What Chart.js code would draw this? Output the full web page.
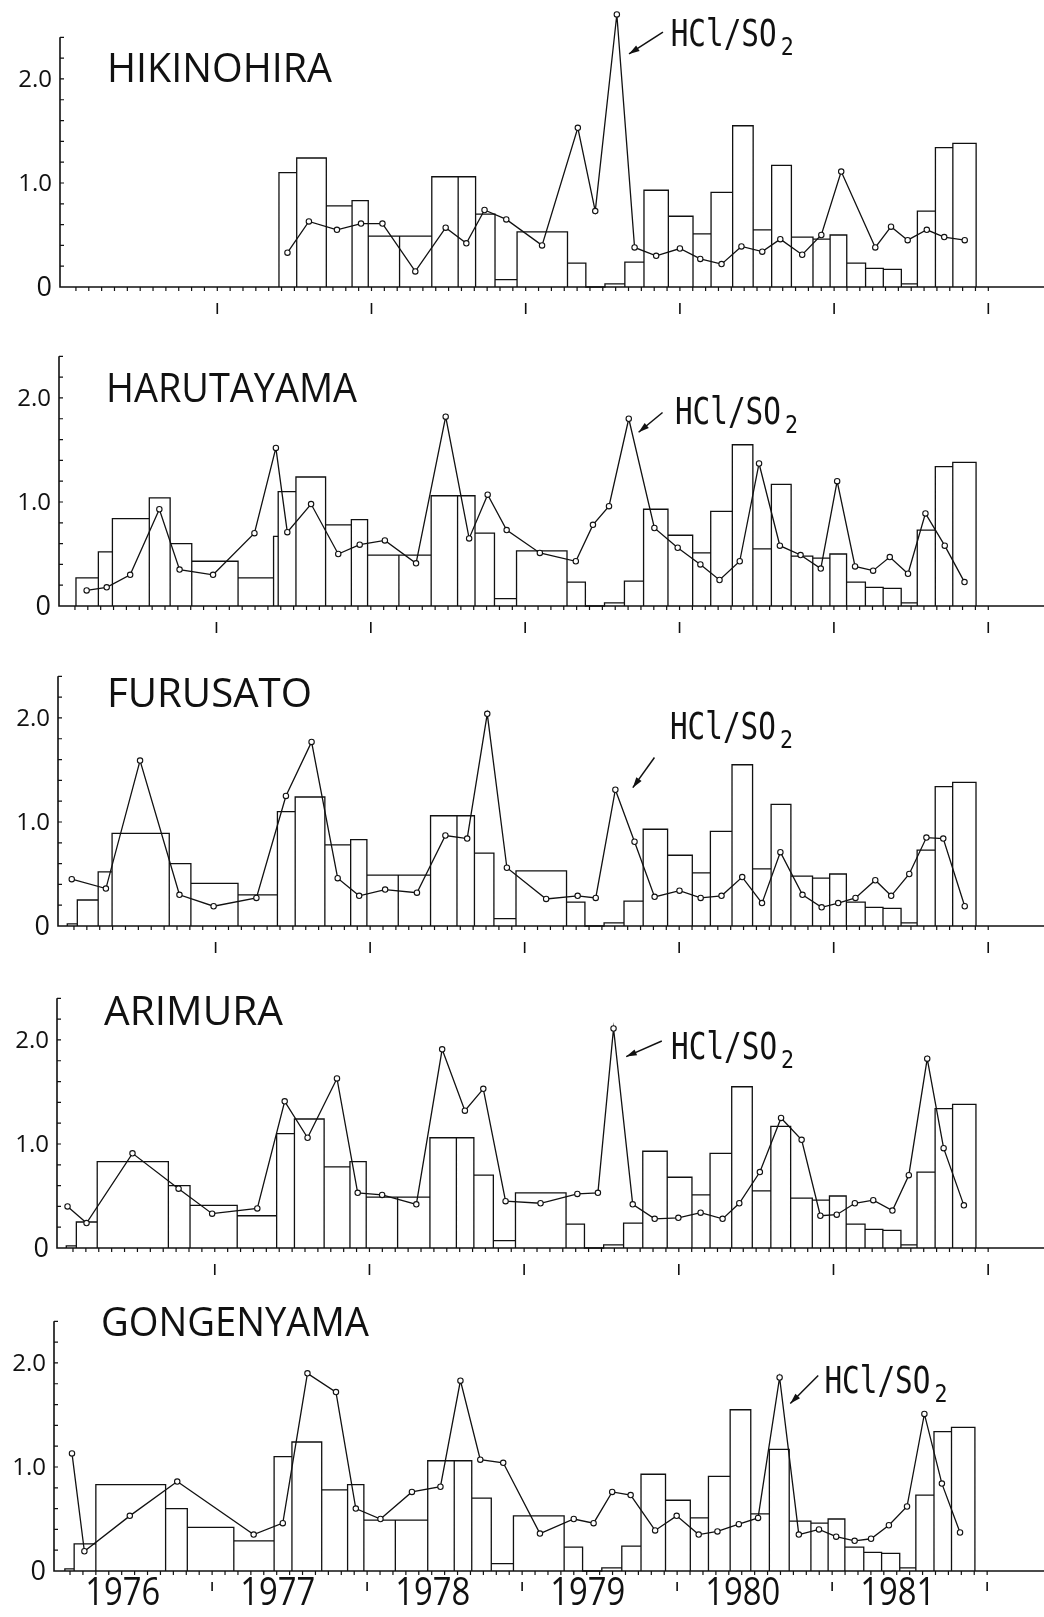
<!DOCTYPE html>
<html>
<head>
<meta charset="utf-8">
<script src="https://cdn.jsdelivr.net/npm/chart.js@4.4.0/dist/chart.umd.min.js"></script>
<style>
  html, body { margin: 0; padding: 0; background: #fff; }
  #wrap { position: relative; width: 1044px; height: 1617px; overflow: hidden; background: #fff; }
  #wrap canvas { position: absolute; left: 0; }
</style>
</head>
<body>
<div id="wrap"></div>
<script>
// ---------- data (x in decimal years) ----------
const stations = ['HIKINOHIRA', 'HARUTAYAMA', 'FURUSATO', 'ARIMURA', 'GONGENYAMA'];
const yearLabels = ['1976', '1977', '1978', '1979', '1980', '1981'];
const yearMarks = [1977, 1978, 1979, 1980, 1981, 1982];
const yTickValues = [0, 1, 2];
const yTickLabels = ['0', '1.0', '2.0'];

// bars from mid-1977 on are the same for every station
const lateEdges = [1977.40, 1977.515, 1977.707, 1977.874, 1977.979, 1978.182, 1978.391, 1978.562, 1978.675, 1978.801,
  1978.944, 1979.271, 1979.39, 1979.514, 1979.643, 1979.767, 1979.925, 1980.085, 1980.202, 1980.342,
  1980.475, 1980.595, 1980.723, 1980.863, 1980.974, 1981.082, 1981.204, 1981.319, 1981.436, 1981.54,
  1981.657, 1981.77, 1981.921];
const lateHeights = [1.10, 1.24, 0.78, 0.83, 0.49, 0.49, 1.06, 1.06, 0.70, 0.07,
  0.53, 0.23, 0, 0.03, 0.24, 0.93, 0.68, 0.51, 0.91, 1.55,
  0.55, 1.17, 0.48, 0.46, 0.50, 0.23, 0.18, 0.17, 0.03, 0.73,
  1.34, 1.38];

// 1976-77 bars differ per station (last one runs up to lateEdges[0])
const hikinohiraEarlyEdges = [];
const hikinohiraEarlyHeights = [];
const harutayamaEarlyEdges = [1976.09, 1976.235, 1976.326, 1976.565, 1976.70, 1976.84, 1977.14, 1977.37];
const harutayamaEarlyHeights = [0.27, 0.52, 0.84, 1.04, 0.60, 0.43, 0.27, 0.67];
const furusatoEarlyEdges = [1976.04, 1976.105, 1976.24, 1976.33, 1976.70, 1976.84, 1977.145];
const furusatoEarlyHeights = [0.02, 0.25, 0.52, 0.89, 0.60, 0.41, 0.30];
const arimuraEarlyEdges = [1976.04, 1976.105, 1976.24, 1976.70, 1976.84, 1977.145];
const arimuraEarlyHeights = [0.02, 0.25, 0.83, 0.60, 0.41, 0.31];
const gongenyamaEarlyEdges = [1976.05, 1976.11, 1976.25, 1976.70, 1976.84, 1977.14];
const gongenyamaEarlyHeights = [0.02, 0.26, 0.83, 0.60, 0.42, 0.29];

// HCl/SO2 ratio
const hikinohiraX = [1977.455, 1977.594, 1977.776, 1977.932, 1978.071, 1978.284, 1978.481, 1978.615, 1978.733, 1978.874,
  1979.106, 1979.338, 1979.451, 1979.591, 1979.706, 1979.846, 1980.0, 1980.132, 1980.27, 1980.399,
  1980.534, 1980.651, 1980.793, 1980.917, 1981.046, 1981.267, 1981.369, 1981.477, 1981.601, 1981.714, 1981.847];
const hikinohiraY = [0.33, 0.63, 0.55, 0.61, 0.61, 0.15, 0.57, 0.42, 0.74, 0.65,
  0.40, 1.53, 0.73, 2.62, 0.38, 0.30, 0.37, 0.27, 0.22, 0.39,
  0.34, 0.46, 0.31, 0.50, 1.11, 0.38, 0.58, 0.45, 0.55, 0.48, 0.45];

const harutayamaX = [1976.159, 1976.289, 1976.441, 1976.63, 1976.761, 1976.978, 1977.246, 1977.385, 1977.459, 1977.613,
  1977.789, 1977.928, 1978.091, 1978.293, 1978.485, 1978.637, 1978.757, 1978.88, 1979.095, 1979.328,
  1979.439, 1979.543, 1979.671, 1979.837, 1979.988, 1980.135, 1980.259, 1980.39, 1980.515, 1980.65,
  1980.784, 1980.915, 1981.021, 1981.137, 1981.254, 1981.362, 1981.48, 1981.593, 1981.718, 1981.846];
const harutayamaY = [0.15, 0.18, 0.30, 0.93, 0.35, 0.30, 0.70, 1.52, 0.71, 0.98,
  0.50, 0.59, 0.63, 0.41, 1.82, 0.65, 1.07, 0.73, 0.51, 0.43,
  0.78, 0.96, 1.80, 0.75, 0.56, 0.40, 0.25, 0.43, 1.37, 0.58,
  0.49, 0.36, 1.20, 0.38, 0.34, 0.47, 0.31, 0.89, 0.58, 0.23];

const furusatoX = [1976.069, 1976.29, 1976.511, 1976.766, 1976.987, 1977.264, 1977.455, 1977.621, 1977.79, 1977.929,
  1978.097, 1978.303, 1978.487, 1978.628, 1978.758, 1978.885, 1979.139, 1979.343, 1979.46, 1979.587,
  1979.711, 1979.841, 1980.002, 1980.139, 1980.274, 1980.408, 1980.536, 1980.655, 1980.798, 1980.922,
  1981.029, 1981.141, 1981.269, 1981.372, 1981.489, 1981.6, 1981.709, 1981.848];
const furusatoY = [0.45, 0.36, 1.59, 0.30, 0.19, 0.27, 1.25, 1.77, 0.46, 0.29,
  0.35, 0.32, 0.87, 0.84, 2.04, 0.56, 0.26, 0.29, 0.27, 1.31,
  0.81, 0.28, 0.34, 0.27, 0.29, 0.47, 0.22, 0.71, 0.30, 0.18,
  0.22, 0.27, 0.44, 0.29, 0.50, 0.85, 0.84, 0.19];

const arimuraX = [1976.048, 1976.171, 1976.468, 1976.766, 1976.983, 1977.275, 1977.452, 1977.6, 1977.79, 1977.924,
  1978.082, 1978.303, 1978.47, 1978.617, 1978.736, 1978.88, 1979.106, 1979.344, 1979.477, 1979.578,
  1979.702, 1979.844, 1979.997, 1980.141, 1980.283, 1980.391, 1980.524, 1980.661, 1980.794, 1980.915,
  1981.021, 1981.138, 1981.257, 1981.381, 1981.487, 1981.606, 1981.712, 1981.843];
const arimuraY = [0.40, 0.24, 0.91, 0.57, 0.33, 0.38, 1.41, 1.06, 1.63, 0.53,
  0.51, 0.42, 1.91, 1.32, 1.53, 0.45, 0.43, 0.52, 0.53, 2.11,
  0.42, 0.28, 0.29, 0.34, 0.28, 0.43, 0.73, 1.25, 1.04, 0.31,
  0.32, 0.43, 0.46, 0.36, 0.70, 1.82, 0.96, 0.41];

const gongenyamaX = [1976.096, 1976.176, 1976.469, 1976.775, 1977.268, 1977.456, 1977.615, 1977.799, 1977.927, 1978.086,
  1978.289, 1978.473, 1978.602, 1978.73, 1978.878, 1979.115, 1979.333, 1979.461, 1979.581, 1979.7,
  1979.858, 1979.997, 1980.139, 1980.26, 1980.398, 1980.522, 1980.661, 1980.785, 1980.915, 1981.026,
  1981.145, 1981.251, 1981.366, 1981.483, 1981.595, 1981.708, 1981.825];
const gongenyamaY = [1.13, 0.19, 0.53, 0.86, 0.35, 0.46, 1.90, 1.72, 0.60, 0.50,
  0.76, 0.81, 1.83, 1.07, 1.04, 0.36, 0.50, 0.46, 0.76, 0.73,
  0.39, 0.53, 0.35, 0.38, 0.45, 0.51, 1.86, 0.35, 0.40, 0.33,
  0.29, 0.31, 0.44, 0.62, 1.51, 0.84, 0.37];

// ---------- layout ----------
const X_MIN = 1975.98, X_MAX = 1982.328, Y_MAX = 2.71, AXIS_TOP = 2.4;
const panels = [
  { name: stations[0], x: hikinohiraX, y: hikinohiraY, eE: hikinohiraEarlyEdges, eH: hikinohiraEarlyHeights,
    top: 0, h: 321, axisX: 60, label: [107, 82, 225], note: [1979.94, 2.32], arrow: [1979.89, 2.45, 1979.67, 2.24] },
  { name: stations[1], x: harutayamaX, y: harutayamaY, eE: harutayamaEarlyEdges, eH: harutayamaEarlyHeights,
    top: 319, h: 321, axisX: 59, label: [106, 83, 251], note: [1979.97, 1.75], arrow: [1979.89, 1.86, 1979.735, 1.67] },
  { name: stations[2], x: furusatoX, y: furusatoY, eE: furusatoEarlyEdges, eH: furusatoEarlyHeights,
    top: 639, h: 321, axisX: 58, label: [107, 68, 205], note: [1979.94, 1.80], arrow: [1979.84, 1.62, 1979.70, 1.33] },
  { name: stations[3], x: arimuraX, y: arimuraY, eE: arimuraEarlyEdges, eH: arimuraEarlyHeights,
    top: 961, h: 321, axisX: 57, label: [104, 64, 179], note: [1979.95, 1.82], arrow: [1979.89, 1.99, 1979.66, 1.84] },
  { name: stations[4], x: gongenyamaX, y: gongenyamaY, eE: gongenyamaEarlyEdges, eH: gongenyamaEarlyHeights,
    top: 1284, h: 333, axisX: 54, label: [101, 52, 268], note: [1980.95, 1.71], arrow: [1980.91, 1.88, 1980.73, 1.61], bottom: true }
];

function barOutline(edges, heights) {
  const pts = [];
  for (let i = 0; i < heights.length; i++) {
    pts.push({ x: edges[i], y: 0 }, { x: edges[i], y: heights[i] },
             { x: edges[i + 1], y: heights[i] }, { x: edges[i + 1], y: 0 });
  }
  return pts;
}

function fitText(ctx, text, x, y, width) {
  const w = ctx.measureText(text).width;
  ctx.save();
  ctx.translate(x, y);
  ctx.scale(width / w, 1);
  ctx.fillText(text, 0, 0);
  ctx.restore();
}

function decorPlugin(p) {
  return {
    id: 'decor',
    beforeDatasetsDraw(chart) {
      const ctx = chart.ctx, xs = chart.scales.x, ys = chart.scales.y;
      const x0 = xs.getPixelForValue(X_MIN), y0 = ys.getPixelForValue(0);
      ctx.save();
      ctx.strokeStyle = '#111';
      ctx.lineWidth = 1.6;
      ctx.beginPath();
      ctx.moveTo(x0, ys.getPixelForValue(AXIS_TOP));
      ctx.lineTo(x0, y0);
      ctx.lineTo(chart.width, y0);
      ctx.stroke();
      ctx.lineWidth = 1.2;
      ctx.beginPath();
      // y minor ticks every 0.2
      for (let k = 1; k <= 12; k++) {
        const py = ys.getPixelForValue(k * 0.2);
        ctx.moveTo(x0, py); ctx.lineTo(x0 + 4, py);
      }
      // monthly ticks under the axis
      for (let m = 1; m <= 72; m++) {
        const px = xs.getPixelForValue(1976 + m / 12);
        ctx.moveTo(px, y0); ctx.lineTo(px, y0 + 4);
      }
      ctx.stroke();
      // year marks
      ctx.lineWidth = 1.6;
      ctx.beginPath();
      const a = p.bottom ? 11 : 16, b = p.bottom ? 20 : 27;
      yearMarks.forEach(yr => {
        const px = xs.getPixelForValue(yr);
        ctx.moveTo(px, y0 + a); ctx.lineTo(px, y0 + b);
      });
      ctx.stroke();
      ctx.restore();
    },
    afterDatasetsDraw(chart) {
      const ctx = chart.ctx, xs = chart.scales.x, ys = chart.scales.y;
      const x0 = xs.getPixelForValue(X_MIN);
      ctx.save();
      ctx.fillStyle = '#111';
      ctx.strokeStyle = '#111';
      // y tick labels
      ctx.textAlign = 'right';
      ctx.textBaseline = 'middle';
      yTickValues.forEach((v, i) => {
        ctx.font = (v === 0 ? '27px' : '24px') + ' "Open Sans", "DejaVu Sans", sans-serif';
        ctx.fillText(yTickLabels[i], x0 - 8, ys.getPixelForValue(v) + 1);
      });
      // station name
      ctx.textAlign = 'left';
      ctx.textBaseline = 'alphabetic';
      ctx.font = '41px "Open Sans", "DejaVu Sans", sans-serif';
      fitText(ctx, p.name, p.label[0], p.label[1], p.label[2]);
      // HCl/SO2 note
      const nx = xs.getPixelForValue(p.note[0]), ny = ys.getPixelForValue(p.note[1]);
      ctx.font = '37px "DejaVu Sans Mono", monospace';
      fitText(ctx, 'HCl/SO', nx, ny, 106);
      ctx.font = '25px "DejaVu Sans Mono", monospace';
      fitText(ctx, '2', nx + 110, ny + 9, 13);
      // arrow
      const ax1 = xs.getPixelForValue(p.arrow[0]), ay1 = ys.getPixelForValue(p.arrow[1]);
      const ax2 = xs.getPixelForValue(p.arrow[2]), ay2 = ys.getPixelForValue(p.arrow[3]);
      const ang = Math.atan2(ay2 - ay1, ax2 - ax1);
      ctx.lineWidth = 1.5;
      ctx.beginPath();
      ctx.moveTo(ax1, ay1); ctx.lineTo(ax2, ay2);
      ctx.stroke();
      ctx.beginPath();
      ctx.moveTo(ax2, ay2);
      ctx.lineTo(ax2 - 11 * Math.cos(ang - 0.3), ay2 - 11 * Math.sin(ang - 0.3));
      ctx.lineTo(ax2 - 11 * Math.cos(ang + 0.3), ay2 - 11 * Math.sin(ang + 0.3));
      ctx.closePath();
      ctx.fill();
      // year labels on the last panel
      if (p.bottom) {
        const y0 = ys.getPixelForValue(0);
        ctx.font = '38px "Open Sans", "DejaVu Sans", sans-serif';
        ctx.textBaseline = 'alphabetic';
        yearLabels.forEach(t => {
          const cx = xs.getPixelForValue(Number(t) + 0.42);
          fitText(ctx, t, cx - 37, y0 + 34, 75);
        });
      }
      ctx.restore();
    }
  };
}

const wrap = document.getElementById('wrap');
panels.forEach(p => {
  const canvas = document.createElement('canvas');
  canvas.width = 1044;
  canvas.height = p.h;
  canvas.style.top = p.top + 'px';
  canvas.style.width = '1044px';
  canvas.style.height = p.h + 'px';
  wrap.appendChild(canvas);

  const edges = p.eE.concat(lateEdges);
  const heights = p.eH.concat(lateHeights);
  const ratio = p.x.map((v, i) => ({ x: v, y: p.y[i] }));

  new Chart(canvas.getContext('2d'), {
    type: 'line',
    data: {
      datasets: [
        {
          label: 'HCl/SO2',
          data: ratio,
          borderColor: '#111',
          borderWidth: 1.3,
          pointRadius: 2.7,
          pointBackgroundColor: '#fff',
          pointBorderColor: '#111',
          pointBorderWidth: 1.1,
          tension: 0,
          clip: false,
          order: 1
        },
        {
          label: 'bars',
          data: barOutline(edges, heights),
          borderColor: '#111',
          borderWidth: 1.3,
          pointRadius: 0,
          tension: 0,
          clip: false,
          order: 2
        }
      ]
    },
    options: {
      responsive: false,
      animation: false,
      devicePixelRatio: 1,
      events: [],
      layout: { padding: { left: p.axisX, right: 1044 - p.axisX - 984, top: 0, bottom: p.h - 287 } },
      scales: {
        x: { type: 'linear', display: false, min: X_MIN, max: X_MAX },
        y: { type: 'linear', display: false, min: 0, max: Y_MAX }
      },
      plugins: { legend: { display: false }, tooltip: { enabled: false } }
    },
    plugins: [decorPlugin(p)]
  });
});
</script>
</body>
</html>
